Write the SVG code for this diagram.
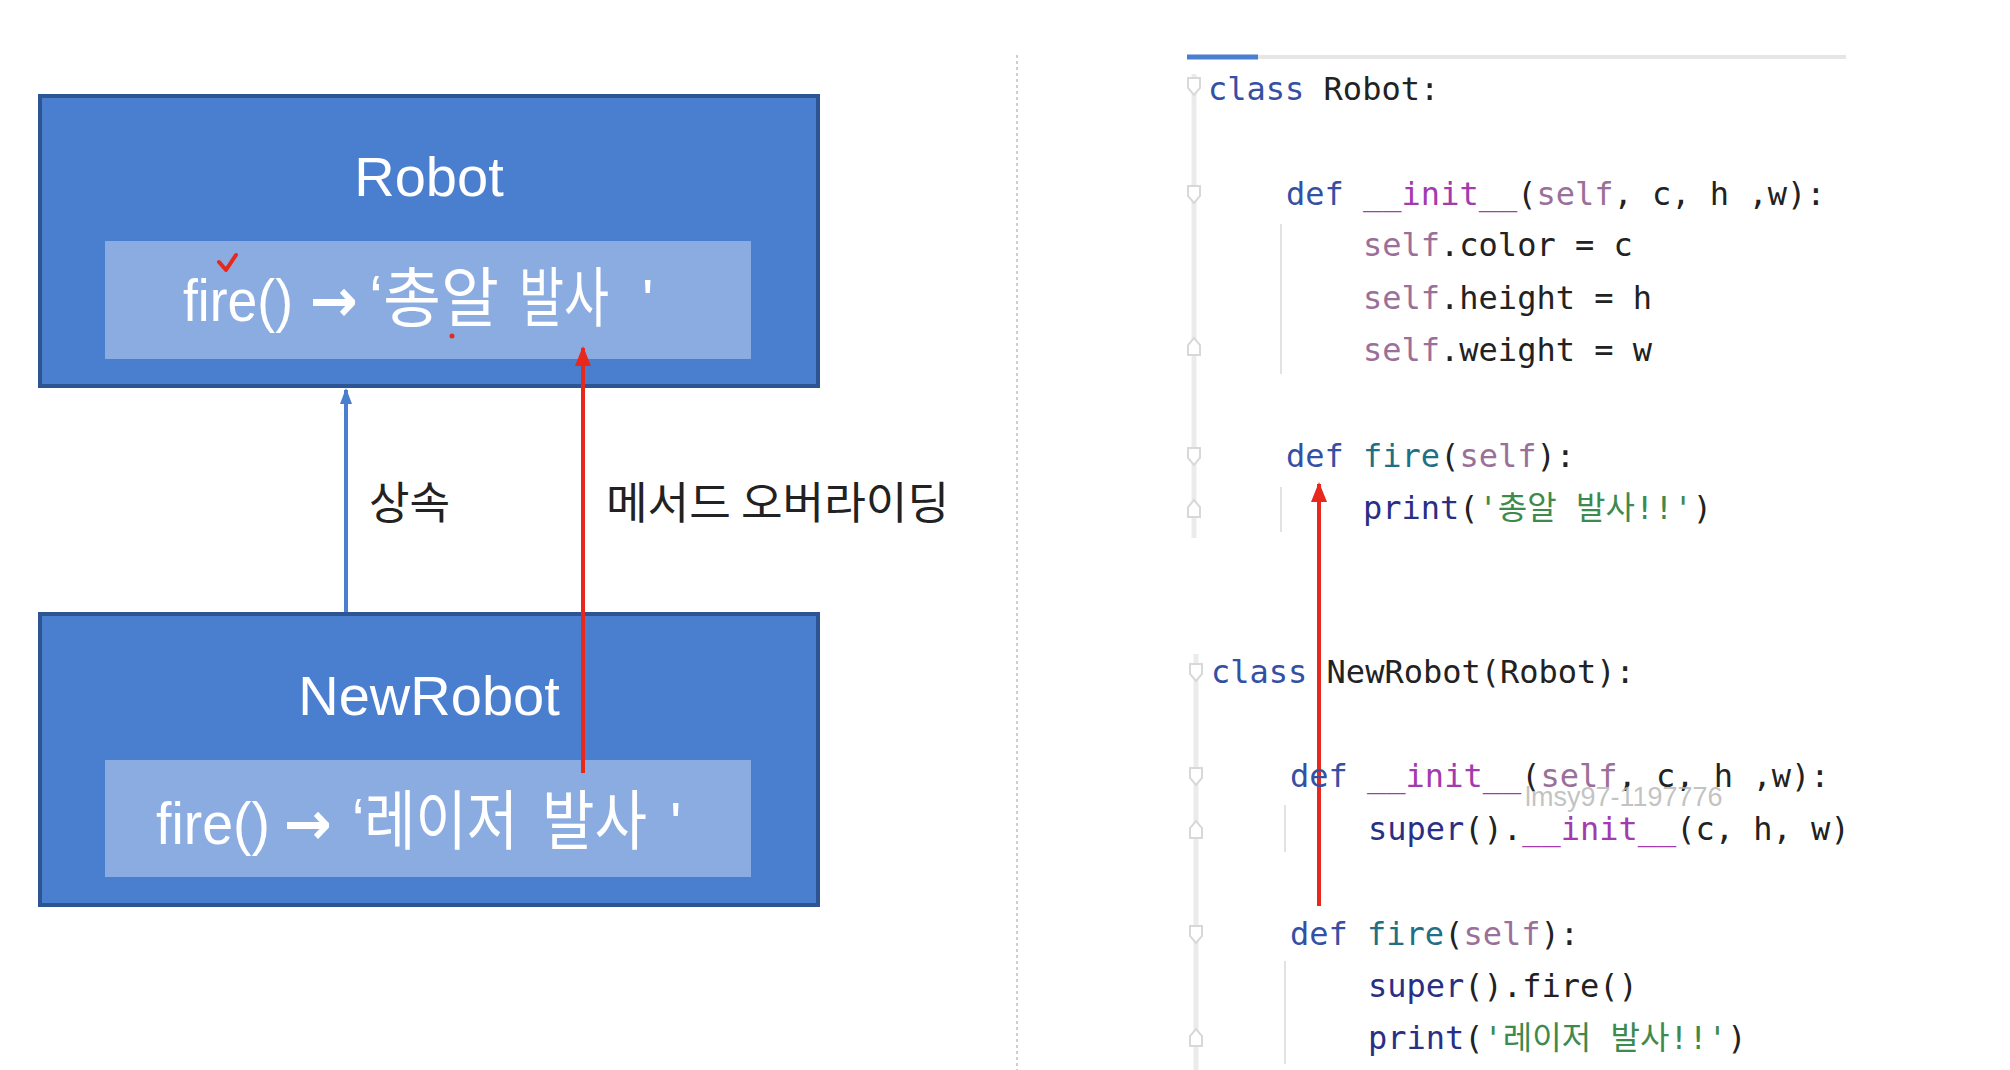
<svg xmlns="http://www.w3.org/2000/svg" width="2010" height="1070" viewBox="0 0 2010 1070">
<style>
.box{fill:#4A7ECF;stroke:#2E5593;stroke-width:4}
.inner{fill:#8BACE0}
.title{font-family:"Liberation Sans","Noto Sans CJK KR",sans-serif;font-size:56px;fill:#fff;text-anchor:middle}
.meth{font-family:"Liberation Sans","Noto Sans CJK KR",sans-serif;font-size:60px;fill:#fff}
.ko{font-size:65px}
.arr{font-family:"DejaVu Sans",sans-serif;font-weight:bold;font-size:60px;fill:#fff}
.lbl{font-family:"Noto Sans CJK KR","Liberation Sans",sans-serif;font-size:44px;fill:#222}
.code{font-family:"DejaVu Sans Mono","Noto Sans CJK KR",monospace;font-size:32px;fill:#222}
.kw{fill:#3450A4}
.mg{fill:#A33AAE}
.sf{fill:#9A6F99}
.fn{fill:#1F6F86}
.pr{fill:#2A2F86}
.st{fill:#3C8A4E}
.guide{stroke:#E2E2E2;stroke-width:2}
.fold{fill:#fff;stroke:#D8D8D8;stroke-width:2}
</style>
<defs>
<marker id="ahBlue" markerUnits="userSpaceOnUse" markerWidth="12" markerHeight="16" refX="6" refY="2" viewBox="0 0 12 16">
<path d="M0,16 L6,0 L12,16 Z" fill="#4A7ECF"/>
</marker>
<marker id="ahRed" markerUnits="userSpaceOnUse" markerWidth="16" markerHeight="20" refX="8" refY="2" viewBox="0 0 16 20">
<path d="M0,20 L8,0 L16,20 Z" fill="#E8281C"/>
</marker>
</defs>
<rect width="2010" height="1070" fill="#fff"/>

<!-- separator -->
<line x1="1017" y1="55" x2="1017" y2="1070" stroke="#CFCFCF" stroke-width="2" stroke-dasharray="3,3"/>

<g id="robot">
<rect class="box" x="40" y="96" width="778" height="290"/>
<rect class="inner" x="105" y="241" width="646" height="118"/>
<text class="title" x="429" y="196">Robot</text>
<text class="meth" x="183" y="321" textLength="110" lengthAdjust="spacingAndGlyphs">fire()</text>
<text class="arr" x="310" y="321" textLength="48" lengthAdjust="spacingAndGlyphs">→</text>
<text class="meth ko" x="369" y="321" textLength="130" lengthAdjust="spacingAndGlyphs">‘총알</text>
<text class="meth ko" x="519" y="321" textLength="90" lengthAdjust="spacingAndGlyphs">발사</text>
<text class="meth" x="642" y="321">'</text>
<path d="M219,262 L226,270 L236,255" fill="none" stroke="#E8281C" stroke-width="4" stroke-linecap="round" stroke-linejoin="round"/>
<circle cx="452" cy="336" r="2.5" fill="#E8281C"/>
</g>

<g id="newrobot">
<rect class="box" x="40" y="614" width="778" height="291"/>
<rect class="inner" x="105" y="760" width="646" height="117"/>
<text class="title" x="429" y="715">NewRobot</text>
<text class="meth" x="156" y="844" textLength="114" lengthAdjust="spacingAndGlyphs">fire()</text>
<text class="arr" x="284" y="844" textLength="48" lengthAdjust="spacingAndGlyphs">→</text>
<text class="meth ko" x="352" y="844" textLength="166" lengthAdjust="spacingAndGlyphs">‘레이저</text>
<text class="meth ko" x="542" y="844" textLength="105" lengthAdjust="spacingAndGlyphs">발사</text>
<text class="meth" x="670" y="844">'</text>
</g>

<g id="connectors">
<line x1="346" y1="612" x2="346" y2="390" stroke="#4A7ECF" stroke-width="4" marker-end="url(#ahBlue)"/>
<line x1="583" y1="773" x2="583" y2="348" stroke="#E8281C" stroke-width="4" marker-end="url(#ahRed)"/>
<text class="lbl" x="369" y="519">상속</text>
<text class="lbl" x="606" y="519" textLength="343" lengthAdjust="spacingAndGlyphs">메서드 오버라이딩</text>
<line x1="1319" y1="906" x2="1319" y2="484" stroke="#E8281C" stroke-width="4" marker-end="url(#ahRed)"/>
</g>

<g id="code">
<line x1="1187" y1="57" x2="1846" y2="57" stroke="#E6E6E6" stroke-width="4"/>
<line x1="1187" y1="57" x2="1258" y2="57" stroke="#4A7ECF" stroke-width="5"/>
<!-- gutter -->
<line x1="1194" y1="74" x2="1194" y2="538" stroke="#EBEBEB" stroke-width="5"/>
<line x1="1196" y1="654" x2="1196" y2="1070" stroke="#EBEBEB" stroke-width="5"/>
<path class="fold" d="M1188,78 h12 v10 l-6,7 l-6,-7 Z"/>
<path class="fold" d="M1188,186 h12 v10 l-6,7 l-6,-7 Z"/>
<path class="fold" d="M1188,355 v-10 l6,-7 l6,7 v10 Z"/>
<path class="fold" d="M1188,448 h12 v10 l-6,7 l-6,-7 Z"/>
<path class="fold" d="M1188,517 v-10 l6,-7 l6,7 v10 Z"/>
<path class="fold" d="M1190,664 h12 v10 l-6,7 l-6,-7 Z"/>
<path class="fold" d="M1190,768 h12 v10 l-6,7 l-6,-7 Z"/>
<path class="fold" d="M1190,838 v-10 l6,-7 l6,7 v10 Z"/>
<path class="fold" d="M1190,926 h12 v10 l-6,7 l-6,-7 Z"/>
<path class="fold" d="M1190,1046 v-10 l6,-7 l6,7 v10 Z"/>
<!-- indent guides -->
<line class="guide" x1="1281" y1="224" x2="1281" y2="374"/>
<line class="guide" x1="1281" y1="487" x2="1281" y2="532"/>
<line class="guide" x1="1285" y1="805" x2="1285" y2="852"/>
<line class="guide" x1="1285" y1="961" x2="1285" y2="1064"/>

<text class="code" x="1208" y="100"><tspan class="kw">class</tspan> Robot:</text>
<text class="code" x="1286" y="205"><tspan class="kw">def</tspan> <tspan class="mg">__init__</tspan>(<tspan class="sf">self</tspan>, c, h ,w):</text>
<text class="code" x="1363" y="256"><tspan class="sf">self</tspan>.color = c</text>
<text class="code" x="1363" y="309"><tspan class="sf">self</tspan>.height = h</text>
<text class="code" x="1363" y="361"><tspan class="sf">self</tspan>.weight = w</text>
<text class="code" x="1286" y="467"><tspan class="kw">def</tspan> <tspan class="fn">fire</tspan>(<tspan class="sf">self</tspan>):</text>
<text class="code" x="1363" y="519"><tspan class="pr">print</tspan>(<tspan class="st">'총알 발사!!'</tspan>)</text>
<text class="code" x="1211" y="683"><tspan class="kw">class</tspan> NewRobot(Robot):</text>
<text class="code" x="1290" y="787"><tspan class="kw">def</tspan> <tspan class="mg">__init__</tspan>(<tspan class="sf">self</tspan>, c, h ,w):</text>
<text class="code" x="1368" y="840"><tspan class="pr">super</tspan>().<tspan class="mg">__init__</tspan>(c, h, w)</text>
<text class="code" x="1290" y="945"><tspan class="kw">def</tspan> <tspan class="fn">fire</tspan>(<tspan class="sf">self</tspan>):</text>
<text class="code" x="1368" y="997"><tspan class="pr">super</tspan>().fire()</text>
<text class="code" x="1368" y="1049"><tspan class="pr">print</tspan>(<tspan class="st">'레이저 발사!!'</tspan>)</text>
<text x="1525" y="806" font-family="Liberation Sans, sans-serif" font-size="27" fill="#B8B8B8" fill-opacity="0.85">lmsy97-1197776</text>
</g>
</svg>
